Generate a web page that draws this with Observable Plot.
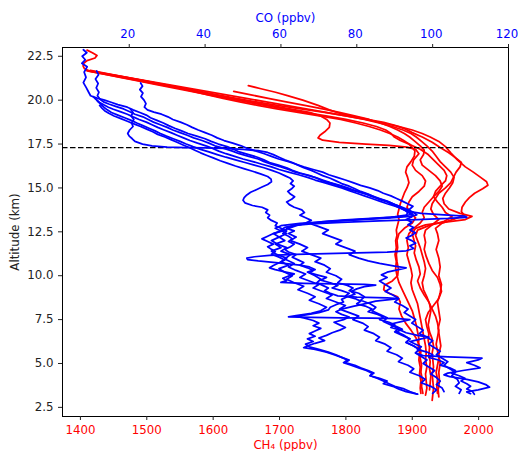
<!DOCTYPE html>
<html><head><meta charset="utf-8">
<script src="https://cdn.jsdelivr.net/npm/d3@7"></script>
<script src="https://cdn.jsdelivr.net/npm/@observablehq/plot@0.6"></script>
<style>
body{margin:0;background:#fff}
#chart{position:relative;width:518px;height:451px}
#chart svg{position:absolute;left:0;top:0}
</style></head><body><div id="chart"></div>
<script>
const ch4Ticks = [1400,1500,1600,1700,1800,1900,2000];
const coTicks = [20,40,60,80,100,120];
const altTicks = [2.5,5,7.5,10,12.5,15,17.5,20,22.5];
const tropopause = [17.3];

// CH4 profiles: [altitude km, CH4 ppbv]
const ch4_f1 = [[22.85,1410],[22.7,1418],[22.55,1425],[22.4,1422],[22.25,1410],[22.1,1405],[21.95,1404],[21.8,1406],[21.68,1412],[21.5,1440],[21.3,1470],[21.1,1500],[20.9,1530],[20.7,1560],[20.5,1590],[20.3,1620],[20.1,1650],[19.9,1680],[19.7,1710],[19.5,1740],[19.3,1770],[19.1,1800],[18.9,1830],[18.7,1855],[18.5,1880],[18.3,1900],[18.1,1915],[17.9,1927],[17.65,1940],[17.35,1950],[17.0,1958],[16.6,1968],[16.2,1980],[15.9,1992],[15.6,2003],[15.35,2012],[15.15,2014],[14.95,2006],[14.7,1994],[14.45,1986],[14.2,1980],[13.9,1975],[13.65,1974],[13.45,1978],[13.25,1965],[13.0,1945],[12.7,1935],[12.4,1938],[12.0,1940],[11.5,1936],[11.0,1940],[10.5,1942],[10.0,1940],[9.5,1944],[9.0,1942],[8.5,1938],[8.0,1940],[7.5,1942],[7.0,1939],[6.5,1941],[6.0,1943],[5.5,1940],[5.0,1942],[4.5,1940],[4.0,1941],[3.5,1939],[3.1,1940]];
const ch4_f2 = [[21.7,1410],[21.5,1438],[21.3,1468],[21.1,1497],[20.9,1525],[20.7,1553],[20.5,1580],[20.3,1607],[20.1,1635],[19.9,1665],[19.7,1697],[19.5,1732],[19.3,1768],[19.1,1800],[18.9,1828],[18.7,1850],[18.5,1870],[18.3,1886],[18.1,1898],[17.9,1906],[17.65,1914],[17.4,1922],[17.1,1930],[16.8,1936],[16.5,1942],[16.2,1950],[15.9,1958],[15.6,1963],[15.3,1961],[15.0,1956],[14.7,1950],[14.4,1946],[14.1,1948],[13.8,1955],[13.55,1972],[13.38,1990],[13.2,1980],[13.05,1950],[12.9,1920],[12.7,1905],[12.4,1900],[12.1,1902],[11.7,1905],[11.3,1903],[10.9,1906],[10.5,1910],[10.1,1912],[9.7,1908],[9.3,1912],[8.9,1918],[8.5,1925],[8.1,1930],[7.7,1935],[7.3,1938],[6.9,1940],[6.5,1938],[6.1,1936],[5.7,1938],[5.3,1940],[4.9,1938],[4.5,1936],[4.1,1938],[3.7,1937],[3.3,1938]];
const ch4_f3 = [[21.65,1412],[21.45,1440],[21.25,1468],[21.05,1496],[20.85,1524],[20.65,1552],[20.45,1580],[20.25,1608],[20.05,1636],[19.85,1664],[19.65,1694],[19.45,1724],[19.3,1745],[19.1,1762],[18.9,1771],[18.7,1776],[18.45,1775],[18.2,1768],[18.0,1761],[17.85,1758],[17.72,1765],[17.6,1790],[17.5,1830],[17.42,1865],[17.32,1892],[17.2,1905],[16.95,1910],[16.6,1902],[16.3,1900],[16.0,1905],[15.7,1915],[15.4,1920],[15.1,1918],[14.8,1910],[14.5,1900],[14.2,1895],[13.9,1892],[13.6,1897],[13.3,1905],[13.0,1900],[12.7,1888],[12.4,1880],[12.0,1877],[11.6,1878],[11.2,1876],[10.8,1877],[10.4,1879],[10.0,1878],[9.7,1870],[9.45,1858],[9.2,1857],[9.0,1865],[8.8,1878],[8.5,1882],[8.1,1880],[7.7,1884],[7.3,1890],[6.9,1898],[6.5,1905],[6.1,1910],[5.7,1913],[5.3,1912],[4.9,1914],[4.5,1913],[4.1,1915],[3.7,1914],[3.3,1916]];
const ch4_f4 = [[20.83,1653],[20.65,1672],[20.45,1694],[20.26,1712],[20.0,1735],[19.7,1758],[19.45,1775],[19.2,1795],[19.0,1820],[18.85,1840],[18.73,1857],[18.55,1875],[18.35,1890],[18.15,1900],[17.9,1915],[17.6,1930],[17.3,1942],[17.0,1955],[16.7,1966],[16.45,1974],[16.2,1972],[15.9,1966],[15.6,1962],[15.3,1958],[15.0,1950],[14.7,1940],[14.4,1935],[14.1,1930],[13.8,1928],[13.5,1932],[13.2,1940],[12.9,1930],[12.6,1920],[12.3,1918],[11.9,1920],[11.5,1918],[11.1,1921],[10.7,1925],[10.3,1930],[9.9,1938],[9.5,1942],[9.1,1944],[8.7,1940],[8.3,1932],[7.9,1924],[7.5,1920],[7.1,1922],[6.7,1925],[6.3,1924],[5.9,1926],[5.5,1925],[5.1,1927],[4.7,1926],[4.3,1928],[3.9,1927],[3.5,1926]];
const ch4_f5 = [[20.5,1631],[20.3,1657],[20.1,1683],[19.9,1710],[19.7,1738],[19.5,1765],[19.3,1790],[19.1,1813],[18.9,1835],[18.7,1852],[18.5,1866],[18.3,1878],[18.1,1888],[17.9,1896],[17.65,1904],[17.4,1912],[17.15,1918],[16.9,1917],[16.6,1912],[16.3,1915],[16.0,1925],[15.7,1935],[15.4,1942],[15.1,1945],[14.8,1940],[14.5,1932],[14.2,1925],[13.9,1918],[13.6,1915],[13.3,1918],[13.0,1912],[12.7,1902],[12.4,1895],[12.0,1892],[11.6,1894],[11.2,1892],[10.8,1895],[10.4,1898],[10.0,1900],[9.6,1898],[9.2,1900],[8.8,1904],[8.4,1908],[8.0,1910],[7.6,1912],[7.2,1914],[6.8,1916],[6.4,1918],[6.0,1920],[5.6,1921],[5.2,1920],[4.8,1922],[4.4,1920],[4.0,1921],[3.6,1922],[3.2,1920]];
const ch4_f6 = [[21.7,1408],[21.5,1434],[21.3,1460],[21.1,1487],[20.9,1513],[20.7,1540],[20.5,1567],[20.3,1594],[20.1,1622],[19.9,1650],[19.7,1678],[19.5,1707],[19.3,1738],[19.1,1770],[18.9,1800],[18.7,1826],[18.5,1846],[18.3,1860],[18.1,1868],[17.9,1873],[17.7,1882],[17.45,1898],[17.2,1912],[16.9,1924],[16.6,1932],[16.3,1940],[16.0,1948],[15.7,1952],[15.4,1950],[15.1,1942],[14.8,1935],[14.5,1932],[14.2,1938],[13.9,1945],[13.6,1950],[13.35,1960],[13.1,1948],[12.85,1925],[12.6,1908],[12.3,1905],[12.0,1908],[11.6,1912],[11.2,1915],[10.8,1918],[10.4,1920],[10.0,1918],[9.6,1915],[9.2,1917],[8.8,1922],[8.4,1926],[8.0,1928],[7.6,1926],[7.2,1924],[6.8,1926],[6.4,1930],[6.0,1932],[5.6,1930],[5.2,1931],[4.8,1932],[4.4,1930],[4.0,1931],[3.6,1932],[2.9,1930]];
const ch4_f7 = [[21.7,1415],[21.5,1442],[21.3,1470],[21.1,1497],[20.9,1522],[20.7,1547],[20.5,1570],[20.3,1592],[20.1,1615],[19.9,1640],[19.7,1667],[19.5,1696],[19.3,1728],[19.1,1760],[18.9,1792],[18.7,1815],[18.5,1835],[18.3,1852],[18.1,1866],[17.9,1878],[17.7,1887],[17.5,1895],[17.3,1900],[17.1,1904],[16.8,1903],[16.5,1898],[16.2,1892],[15.9,1890],[15.6,1893],[15.3,1895],[15.0,1892],[14.7,1888],[14.4,1885],[14.1,1882],[13.8,1880],[13.5,1878],[13.2,1880],[12.9,1878],[12.6,1876],[12.3,1877],[12.0,1875],[11.6,1876],[11.2,1874],[10.8,1876],[10.4,1875],[10.0,1877],[9.6,1880],[9.2,1885],[8.8,1890],[8.4,1895],[8.0,1900],[7.6,1903],[7.2,1906],[6.8,1908],[6.4,1910],[6.0,1909],[5.6,1911],[5.2,1910],[4.8,1912],[4.4,1911],[4.0,1913],[3.6,1912],[3.3,1913]];

// CO profiles: [altitude km, CO ppbv]
const co_f1 = [[22.87,7.9],[22.7,8.8],[22.5,7.6],[22.3,8.4],[22.1,7.5],[21.9,8.9],[21.6,8.1],[21.3,8.6],[21.0,7.9],[20.7,8.7],[20.45,9.3],[20.25,9.8],[20.12,11.5],[20.0,13.5],[19.88,15.2],[19.75,17],[19.6,19.5],[19.45,21],[19.3,22.8],[19.15,24.5],[19.0,25.6],[18.85,27.3],[18.7,29],[18.55,30.4],[18.4,32],[18.25,33.8],[18.1,35.5],[17.95,37.8],[17.8,40],[17.65,41.6],[17.5,43.5],[17.35,45.8],[17.2,47.5],[17.05,49],[16.9,51.5],[16.75,53.8],[16.6,55.5],[16.45,57],[16.3,59.3],[16.15,61.5],[16.0,63],[15.85,65],[15.7,67.6],[15.55,69.5],[15.4,71],[15.25,73.5],[15.1,75.8],[14.95,77.5],[14.8,80],[14.65,82.5],[14.5,84],[14.35,86.3],[14.2,88.5],[14.05,90],[13.9,92],[13.75,93.6],[13.6,95],[13.47,95.8],[13.38,94],[13.28,88],[13.18,80],[13.08,72],[12.98,65],[12.85,60],[12.7,58.5],[12.55,60],[12.4,58],[12.2,59.5],[12.0,57.5],[11.8,59],[11.6,61.5],[11.4,60],[11.2,62.5],[10.95,61],[10.7,63.5],[10.5,62],[10.3,64],[10.1,66.5],[9.9,65],[9.7,67.5],[9.5,70],[9.3,68.5],[9.1,71],[8.9,73.5],[8.7,72],[8.5,74.5],[8.3,77],[8.1,75.5],[7.9,78],[7.7,80.5],[7.5,79],[7.3,81.5],[7.1,83],[6.9,82],[6.7,84.5],[6.5,86],[6.3,85],[6.1,87.5],[5.9,89],[5.7,88],[5.5,90.5],[5.3,92],[5.1,91],[4.9,93.5],[4.7,95],[4.5,94],[4.3,96.5],[4.1,98],[3.9,97],[3.7,99.5],[3.5,101],[3.3,100]];
const co_f2 = [[21.66,11.4],[21.45,11.9],[21.2,11.1],[20.95,11.8],[20.7,11.3],[20.45,12],[20.25,11.6],[20.05,12.3],[19.9,13.2],[19.78,14.6],[19.65,16.4],[19.5,18.5],[19.35,20],[19.2,21.5],[19.05,23.6],[18.9,25],[18.75,26.4],[18.6,28.2],[18.45,30],[18.3,31.5],[18.15,33.4],[18.0,35.3],[17.85,37],[17.7,39.2],[17.55,41],[17.4,42.6],[17.25,45],[17.1,47.2],[16.95,49],[16.8,51.5],[16.65,54],[16.5,55.6],[16.35,57.5],[16.2,60],[16.05,62],[15.9,63.8],[15.75,66.5],[15.6,69],[15.45,71],[15.3,73],[15.15,75.5],[15.0,77.6],[14.85,79.5],[14.7,81.8],[14.55,84],[14.4,86],[14.25,88],[14.1,89.6],[13.95,91.2],[13.8,92.5],[13.65,94],[13.55,97],[13.47,103],[13.4,108.5],[13.33,109],[13.26,104],[13.2,96],[13.12,86],[13.04,76],[12.95,68],[12.85,63],[12.7,61.5],[12.55,63.5],[12.4,62],[12.2,64],[12.0,62.5],[11.8,65],[11.6,67],[11.4,65.5],[11.2,68],[11.0,70.5],[10.8,69],[10.6,71.5],[10.4,73],[10.2,72],[10.0,74.5],[9.8,76],[9.6,75],[9.45,77.5],[9.3,79],[9.15,78],[9.0,80.5],[8.8,82],[8.6,81],[8.4,83.5],[8.2,85],[8.0,84],[7.8,86],[7.6,88],[7.4,87],[7.2,89],[7.0,91],[6.8,90],[6.6,92],[6.4,94],[6.2,93],[6.0,95],[5.8,96.5],[5.6,95.5],[5.45,97.5],[5.38,104],[5.34,110],[5.3,113],[5.2,112],[5.05,109],[4.9,111],[4.75,112.5],[4.6,108],[4.45,104],[4.35,103],[4.25,104.5],[4.1,109],[3.95,112],[3.8,114],[3.65,115],[3.5,112],[3.38,109],[3.28,110]];
const co_f3 = [[20.98,23],[20.8,23.5],[20.6,22.8],[20.4,23.6],[20.2,23.1],[20.0,23.9],[19.8,24.4],[19.6,24],[19.45,24.8],[19.32,26.5],[19.2,28.5],[19.05,30.2],[18.9,31.5],[18.75,33.5],[18.6,35.2],[18.45,36.6],[18.3,38.2],[18.15,40],[18.0,41.8],[17.85,43.2],[17.7,45],[17.55,47.3],[17.4,49.5],[17.25,51.2],[17.1,53.5],[16.95,55.6],[16.8,57.5],[16.65,59.4],[16.5,62],[16.35,64],[16.2,66],[16.05,68.5],[15.9,71],[15.75,72.6],[15.6,74.8],[15.45,77],[15.3,79],[15.15,81],[15.0,83.4],[14.85,85.5],[14.7,87],[14.55,89],[14.4,90.5],[14.25,92],[14.1,93.4],[13.95,94.8],[13.8,94],[13.65,93.2],[13.5,94.5],[13.38,92],[13.28,85],[13.18,77],[13.08,71],[12.95,68],[12.8,70],[12.6,72.5],[12.4,71],[12.2,73.5],[12.0,76],[11.8,74.5],[11.6,77],[11.4,79.5],[11.2,78],[11.0,80.5],[10.85,83],[10.7,86],[10.55,90],[10.45,93],[10.35,91],[10.2,88],[10.05,86.5],[9.9,88],[9.7,86],[9.5,87.5],[9.3,89],[9.1,87.5],[8.9,89.5],[8.7,91],[8.5,90],[8.3,92],[8.1,93.5],[7.9,92.5],[7.7,94],[7.5,95.5],[7.3,94.5],[7.1,96],[6.9,97.5],[6.7,96.5],[6.5,98.5],[6.3,100],[6.1,99],[5.9,100.5],[5.7,102],[5.5,101],[5.3,102.5],[5.1,104],[4.9,103],[4.7,104.5],[4.5,106],[4.3,105],[4.1,106.5],[3.9,107],[3.7,106],[3.5,107.5],[3.3,107]];
const co_f4 = [[19.5,20.3],[19.3,21],[19.1,20.5],[18.9,21.2],[18.7,20.6],[18.5,21],[18.3,20.1],[18.1,19.6],[17.95,20],[17.8,20.8],[17.65,21.5],[17.5,23.5],[17.4,26],[17.32,30],[17.3,35],[17.28,40],[17.25,45],[17.2,50],[17.12,54],[17.02,56.5],[16.9,58],[16.75,59.5],[16.6,61],[16.45,63],[16.3,64.5],[16.15,66],[16.0,68],[15.85,69.5],[15.7,71],[15.55,73],[15.4,74.5],[15.25,76],[15.1,78],[14.95,79.5],[14.8,81],[14.65,83],[14.5,84.5],[14.35,86],[14.2,88],[14.05,89.5],[13.9,91],[13.75,92.5],[13.6,93.5],[13.45,93],[13.33,89],[13.22,82],[13.12,75],[13.02,69],[12.9,64],[12.75,61],[12.6,60],[12.4,61.5],[12.2,59.5],[12.0,61],[11.8,58.5],[11.6,60],[11.4,57.5],[11.2,59],[11.0,61.5],[10.8,60],[10.6,62],[10.4,59.5],[10.2,61],[10.0,63],[9.8,61.5],[9.6,63.5],[9.4,66],[9.2,64.5],[9.0,67],[8.8,69],[8.6,67.5],[8.4,70],[8.2,72],[8.0,70.5],[7.85,68],[7.72,64],[7.65,62],[7.62,68],[7.6,76],[7.58,84],[7.55,91],[7.5,94],[7.4,92],[7.25,89],[7.1,90.5],[6.95,92],[6.8,90.5],[6.6,92.5],[6.4,94],[6.2,93],[6.0,95],[5.8,96.5],[5.6,95.5],[5.4,97],[5.2,98.5],[5.0,97.5],[4.8,99],[4.6,100.5],[4.4,99.5],[4.2,101],[4.0,102],[3.8,101],[3.6,102.5],[3.4,103]];
const co_f5 = [[19.7,12.2],[19.55,12.8],[19.4,13.5],[19.25,14.6],[19.1,16],[18.95,17.8],[18.8,19.5],[18.65,21.2],[18.5,23],[18.35,24.6],[18.2,26.2],[18.05,27.5],[17.9,29.4],[17.75,31],[17.6,32.6],[17.45,34.2],[17.3,35.8],[17.15,37.3],[17.0,38.8],[16.85,40.5],[16.7,42.3],[16.55,44],[16.4,46],[16.25,48],[16.1,50.2],[15.95,52.5],[15.8,54.6],[15.65,56.5],[15.5,57.4],[15.35,57.5],[15.2,56.5],[15.05,55],[14.9,53.5],[14.75,52],[14.6,51],[14.45,50.3],[14.3,50],[14.15,50.5],[14.0,52.5],[13.9,55],[13.75,56.5],[13.6,56],[13.45,57],[13.3,56.5],[13.15,57.5],[13.0,59],[12.85,58.5],[12.7,60],[12.55,61.5],[12.4,60.5],[12.25,62],[12.1,63],[11.95,62],[11.8,63.5],[11.65,62.5],[11.5,61],[11.35,62],[11.2,64],[11.05,63],[10.9,64.5],[10.75,66],[10.6,65],[10.45,67],[10.3,68.5],[10.15,67.5],[10.0,69],[9.8,70.5],[9.6,69.5],[9.45,71],[9.3,72.5],[9.15,71.5],[9.0,73],[8.85,75],[8.78,80],[8.74,88],[8.7,91],[8.62,88],[8.55,85],[8.4,82],[8.25,79],[8.1,76],[7.95,74.5],[7.8,76],[7.65,78],[7.5,76.5],[7.35,74],[7.2,75.5],[7.05,77],[6.9,75.5],[6.75,73.5],[6.6,72],[6.45,70],[6.3,71.5],[6.15,69],[6.0,67],[5.9,66],[5.8,69],[5.65,72],[5.5,74],[5.35,76],[5.2,78],[5.05,77],[4.9,79.5],[4.75,81],[4.6,83],[4.45,84.5],[4.3,83.5],[4.15,86],[4.0,88],[3.85,87],[3.7,89.5],[3.55,91],[3.4,93],[3.25,96]];
const co_f6 = [[20.0,11.5],[19.85,12.3],[19.72,13.4],[19.6,14.5],[19.48,15.8],[19.35,17.6],[19.2,19.5],[19.05,21],[18.9,22.6],[18.75,24.5],[18.6,26],[18.45,27.5],[18.3,29.2],[18.15,31],[18.0,32.6],[17.85,34.3],[17.7,36],[17.55,38],[17.4,40.2],[17.25,42],[17.1,43.6],[16.95,45.5],[16.8,47.8],[16.65,50],[16.5,52.6],[16.35,55],[16.2,57.5],[16.05,59.5],[15.9,62],[15.75,64.6],[15.6,67],[15.45,69],[15.3,71.4],[15.15,73.8],[15.0,76],[14.85,78],[14.7,80],[14.55,82],[14.4,84],[14.25,86],[14.1,88],[13.95,90.3],[13.8,92],[13.65,93.5],[13.5,94.8],[13.35,94.5],[13.2,93],[13.05,94.5],[12.9,93.5],[12.75,95],[12.6,94],[12.45,95.5],[12.3,94.5],[12.15,93],[12.0,94.5],[11.85,95.5],[11.7,94],[11.55,95],[11.42,93],[11.35,88],[11.3,80],[11.26,72],[11.22,64],[11.16,57],[11.08,53],[11.0,51],[10.92,51.2],[10.84,54],[10.76,58],[10.68,62],[10.6,65],[10.5,67.5],[10.35,69],[10.2,67],[10.05,69.5],[9.9,72],[9.75,70.5],[9.6,73],[9.45,75],[9.3,73.5],[9.15,76],[9.0,78],[8.85,77],[8.7,79.5],[8.55,81],[8.4,80],[8.25,82.5],[8.1,84],[7.95,83],[7.8,85.5],[7.65,87],[7.5,86],[7.35,88.5],[7.2,90],[7.05,89],[6.9,91.5],[6.75,93],[6.6,96],[6.5,99],[6.4,97],[6.25,94],[6.1,95.5],[5.95,97],[5.8,96],[5.65,98.5],[5.5,100],[5.35,99],[5.2,101.5],[5.05,103],[4.9,102],[4.75,104.5],[4.6,106],[4.45,105],[4.3,107],[4.15,108.5],[4.0,107.5],[3.85,109],[3.7,110],[3.55,109],[3.4,110.5],[3.25,111]];
const co_f7 = [[20.2,10.5],[20.05,11.2],[19.9,11.8],[19.75,12.6],[19.6,13.3],[19.45,14.2],[19.3,15.3],[19.15,17],[19.0,18.8],[18.85,20.5],[18.7,22],[18.55,23.6],[18.4,25.2],[18.25,26.8],[18.1,28.2],[17.95,29.8],[17.8,31.6],[17.65,33.4],[17.5,35],[17.35,36.8],[17.2,38.8],[17.05,41],[16.9,43.2],[16.75,45.5],[16.6,48],[16.45,50.5],[16.3,53],[16.15,55.5],[16.0,57.6],[15.85,59.5],[15.7,61],[15.55,62.5],[15.4,63.2],[15.25,62.5],[15.1,63.5],[14.95,62.8],[14.8,61.8],[14.65,62.5],[14.5,63.6],[14.35,62.8],[14.2,61.5],[14.05,62.2],[13.9,63.5],[13.75,65.5],[13.6,66.2],[13.45,65],[13.3,66.5],[13.15,68],[13.0,66.5],[12.85,64],[12.7,62],[12.55,60.5],[12.4,58],[12.25,56.5],[12.1,55],[11.95,56.5],[11.8,58],[11.65,56.5],[11.5,57.5],[11.38,58.5],[11.22,57.5],[11.06,59.5],[10.9,61],[10.74,59.5],[10.58,58],[10.45,57],[10.35,58.5],[10.22,61],[10.1,63.5],[9.98,62],[9.85,60.5],[9.72,61.5],[9.62,60],[9.57,66],[9.54,74],[9.51,82],[9.47,85],[9.38,82],[9.25,80],[9.1,78.5],[8.95,79.5],[8.8,77.5],[8.65,76],[8.5,76.5],[8.35,74.5],[8.2,73],[8.05,72.5],[7.9,70],[7.78,67],[7.68,64],[7.6,66],[7.45,68.5],[7.3,70],[7.15,68.5],[7.0,70.5],[6.85,69],[6.7,67.5],[6.55,69],[6.4,67],[6.25,68.5],[6.1,66.5],[5.95,67.5],[5.8,70],[5.65,72.5],[5.5,74.5],[5.35,76],[5.2,77.5],[5.05,76.5],[4.9,78.5],[4.75,80.5],[4.6,82.5],[4.45,84],[4.3,83.5],[4.15,85.5],[4.0,87],[3.85,88.5],[3.7,90],[3.55,92.5],[3.4,94],[3.25,96]];

const ch4Profiles = [ch4_f1, ch4_f2, ch4_f3, ch4_f4, ch4_f5, ch4_f6, ch4_f7];
const coProfiles = [co_f1, co_f2, co_f3, co_f4, co_f5, co_f6, co_f7];
const toRows = (profiles) => profiles.flatMap((p, i) => p.map(([alt, v]) => ({flight: i, alt, v})));
const ch4Rows = toRows(ch4Profiles);
const coRows = toRows(coProfiles);

const common = {
  width: 518, height: 451,
  marginLeft: 62, marginRight: 10, marginTop: 47, marginBottom: 35,
  style: {fontFamily: "'DejaVu Sans', sans-serif", fontSize: "11.8px", background: "transparent", overflow: "visible"}
};
const yScale = {domain: [1.98, 23.0], label: null};
const plain = d => String(d);

const p1 = Plot.plot({
  ...common,
  x: {domain: [1373, 2045], label: null},
  y: yScale,
  marks: [
    Plot.line(ch4Rows, {x: "v", y: "alt", z: "flight", stroke: "red", strokeWidth: 1.75}),
    Plot.ruleY(tropopause, {stroke: "black", strokeWidth: 1.2, strokeDasharray: "5.5,2.5"}),
    Plot.frame({stroke: "black", strokeWidth: 1}),
    Plot.axisX({ticks: ch4Ticks, anchor: "bottom", tickSize: 4, tickPadding: 5, tickFormat: plain, color: "red", stroke: "#222", label: null}),
    Plot.axisY({ticks: altTicks, anchor: "left", tickSize: 4, tickPadding: 5, tickFormat: d3.format(".1f"), color: "#222", label: null}),
    Plot.text(["CH₄ (ppbv)"], {text: d => d, frameAnchor: "bottom", dy: 29, fill: "red", lineAnchor: "middle"}),
    Plot.text(["Altitude (km)"], {text: d => d, frameAnchor: "left", dx: -47, rotate: -90, fill: "#222", textAnchor: "middle", lineAnchor: "middle"})
  ]
});

const p2 = Plot.plot({
  ...common,
  x: {domain: [2.4, 120], label: null},
  y: {...yScale, axis: null},
  marks: [
    Plot.line(coRows, {x: "v", y: "alt", z: "flight", stroke: "blue", strokeWidth: 1.75}),
    Plot.axisX({ticks: coTicks, anchor: "top", tickSize: 4, tickFormat: () => "", color: "none", stroke: "#222", label: null}),
    Plot.axisX({ticks: coTicks, anchor: "top", tickSize: 0, tickPadding: 10, tickFormat: plain, color: "blue", dx: -1.5, label: null}),
    Plot.text(["CO (ppbv)"], {text: d => d, frameAnchor: "top", dy: -29, fill: "blue", lineAnchor: "middle"})
  ]
});

const chart = document.getElementById("chart");
chart.appendChild(p1);
chart.appendChild(p2);
</script>
</body></html>
